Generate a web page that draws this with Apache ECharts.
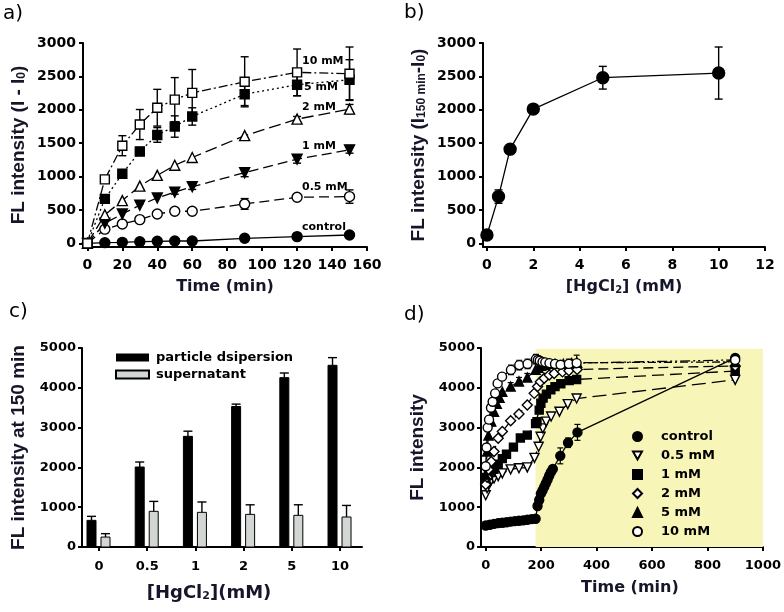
<!DOCTYPE html>
<html><head><meta charset="utf-8">
<script src="https://cdn.jsdelivr.net/npm/echarts@6/dist/echarts.min.js"></script>
<style>html,body{margin:0;padding:0;background:#fff}#c{width:784px;height:612px}</style>
</head><body><div id="c"></div>
<script>
// ---------- Panel a ----------
const aTime = [0,10,20,30,40,50,60,90,120,150];
const aControl = [0,10,15,25,30,35,35,75,100,125];
const aControlErr = [0,0,0,0,0,0,0,0,0,0];
const a05 = [0,212,290,355,440,480,480,590,690,700];
const a05Err = [0,0,0,0,0,0,0,80,40,100];
const a1 = [0,300,440,570,680,766,847,1058,1260,1400];
const a1Err = [0,0,0,0,0,30,40,60,60,50];
const a2 = [0,428,640,857,1018,1169,1285,1613,1860,2010];
const a2Err = [0,0,0,0,0,0,0,0,40,70];
const a5 = [0,665,1043,1376,1623,1749,1900,2233,2375,2450];
const a5Err = [0,0,40,60,110,160,130,170,165,300];
const a10 = [0,958,1462,1779,2031,2152,2253,2419,2560,2540];
const a10Err = [0,0,150,225,275,330,350,375,350,400];
const aXTicks = [0,20,40,60,80,100,120,140,160];
const aYTicks = [0,500,1000,1500,2000,2500,3000];
const aSeriesLabels = ['10 mM','5 mM','2 mM','1 mM','0.5 mM','control'];

// ---------- Panel b ----------
const bConc = [0,0.5,1,2,5,10];
const bValue = [125,700,1410,2010,2480,2550];
const bErr = [40,100,40,40,170,390];
const bXTicks = [0,2,4,6,8,10,12];
const bYTicks = [0,500,1000,1500,2000,2500,3000];

// ---------- Panel c ----------
const cCategories = ['0','0.5','1','2','5','10'];
const cDispersion = [670,2010,2780,3530,4255,4565];
const cDispersionErr = [100,125,130,60,117,193];
const cSupernatant = [250,896,871,820,796,754];
const cSupernatantErr = [85,250,260,240,265,290];
const cYTicks = [0,1000,2000,3000,4000,5000];

// ---------- Panel d ----------
const dControlTime = [0,15,30,45,60,75,90,105,120,135,150,165,180,187,193,199,205,211,217,223,229,235,242,269,297,331,900];
const dControl =     [540,560,580,600,610,620,637,650,660,670,685,700,710,1030,1180,1340,1420,1510,1600,1690,1790,1880,1960,2290,2620,2880,4750];
const dControlErr =  [0,0,0,0,0,0,0,0,0,0,0,0,0,0,0,0,0,0,0,0,0,0,0,200,120,200,80];
const d05Time = [0,5,10,20,30,45,60,90,120,150,176,191,198,206,218,236,266,296,328,900];
const d05 =     [1300,1480,1580,1680,1720,1780,1850,1950,1980,2000,2240,2520,2770,2980,3150,3280,3400,3590,3730,4200];
const d1Time = [0,10,20,30,45,60,75,100,125,150,180,185,193,199,207,219,235,250,271,301,328,900];
const d1 =     [1750,1800,1870,1950,2080,2220,2330,2510,2740,2810,3100,3150,3440,3610,3740,3840,3950,4030,4100,4180,4210,4420];
const d2Time = [0,5,10,20,30,45,60,90,120,150,175,187,197,211,229,247,277,300,330,900];
const d2 =     [1570,1750,1950,2150,2400,2730,2900,3170,3340,3570,3860,4030,4150,4240,4320,4360,4400,4430,4460,4550];
const d5Time = [0,5,10,20,30,40,50,60,90,120,150,180,190,200,215,230,250,280,310,330,900];
const d5 =     [1800,2400,2800,3150,3400,3600,3750,3900,4030,4160,4260,4450,4500,4550,4580,4600,4600,4600,4620,4630,4650];
const d5Err =  [0,0,0,0,0,0,0,0,100,100,100,0,0,0,0,0,0,0,0,0,0];
const d10Time = [0,3,7,12,19,25,34,43,59,91,121,151,181,188,195,205,215,230,250,270,300,328,900];
const d10 =     [2030,2500,3000,3200,3500,3650,3860,4110,4280,4450,4570,4600,4720,4700,4680,4650,4640,4620,4600,4580,4600,4620,4700];
const d10Err =  [0,0,0,0,0,0,0,0,0,120,120,120,120,100,0,0,0,0,0,0,120,200,100];
const dShadeTime = [180,1000];
const dShadeValue = [0,4980];
const dXTicks = [0,200,400,600,800,1000];
const dYTicks = [0,1000,2000,3000,4000,5000];

// ---------- helpers ----------
const TITLE_COLOR = '#16162a';
const zip = (xs, ys) => xs.map((x, i) => [x, ys[i]]);
const zip3 = (xs, ys, es) => xs.map((x, i) => [x, ys[i], es[i]]);
const invTri = 'path://M0,0 L10,0 L5,9 Z';

function axis(gridIndex, min, max, ticks, fontSize, margin, extra) {
  return Object.assign({
    type: 'value', gridIndex, min, max,
    axisLine: {show: true, onZero: false, lineStyle: {color: '#000', width: 2}},
    axisTick: {show: true, length: 4, lineStyle: {color: '#000', width: 2}, customValues: ticks},
    axisLabel: {color: '#000', fontFamily: 'DejaVu Sans', fontWeight: 'bold', fontSize, margin,
      customValues: ticks, formatter: v => String(v)},
    splitLine: {show: false}
  }, extra || {});
}
function nameStyle(size, family, extra) {
  const sub = {fontSize: Math.round(size * 0.62), fontWeight: 'bold', fontFamily: family, color: TITLE_COLOR, verticalAlign: 'bottom'};
  return Object.assign({fontSize: size, fontWeight: 'bold', fontFamily: family, color: TITLE_COLOR,
    rich: {s: sub}}, extra || {});
}
function errRender(capHalf, lw) {
  return function (params, api) {
    const x = api.value(0), y = api.value(1), e = api.value(2);
    if (!e) return null;
    const hi = api.coord([x, y + e]);
    const lo = api.coord([x, y - e]);
    const st = {stroke: '#000', lineWidth: lw};
    return {type: 'group', children: [
      {type: 'line', shape: {x1: hi[0], y1: hi[1], x2: lo[0], y2: lo[1]}, style: st},
      {type: 'line', shape: {x1: hi[0] - capHalf, y1: hi[1], x2: hi[0] + capHalf, y2: hi[1]}, style: st},
      {type: 'line', shape: {x1: lo[0] - capHalf, y1: lo[1], x2: lo[0] + capHalf, y2: lo[1]}, style: st}
    ]};
  };
}
function errSeries(name, gi, data, capHalf, lw) {
  return {type: 'custom', name, xAxisIndex: gi, yAxisIndex: gi, data, z: 1,
    renderItem: errRender(capHalf, lw), encode: {x: 0, y: 1}, silent: true};
}
function barRender(offset, width, fill) {
  return function (params, api) {
    const i = api.value(0), v = api.value(1), e = api.value(2);
    const base = api.coord([i, 0]);
    const top = api.coord([i, v]);
    const err = api.coord([i, v + e]);
    const cx = base[0] + offset;
    const st = {stroke: '#000', lineWidth: 1.4};
    return {type: 'group', children: [
      {type: 'line', shape: {x1: cx, y1: top[1], x2: cx, y2: err[1]}, style: st},
      {type: 'line', shape: {x1: cx - width / 2, y1: err[1], x2: cx + width / 2, y2: err[1]}, style: st},
      {type: 'rect', shape: {x: cx - width / 2, y: top[1], width, height: base[1] - top[1]},
       style: {fill, stroke: '#000', lineWidth: 1}}
    ]};
  };
}
function lineSeries(name, gi, data, symbol, size, filled, dash, extra) {
  return Object.assign({
    type: 'line', name, xAxisIndex: gi, yAxisIndex: gi, data, z: 3,
    symbol, symbolSize: size, showAllSymbol: true, animation: false,
    itemStyle: {color: filled ? '#000' : '#fff', borderColor: '#000', borderWidth: 1.4, opacity: 1},
    lineStyle: {color: '#000', width: 1.3, type: dash || 'solid'}
  }, extra || {});
}

const cIdx = cCategories.map((c, i) => i);

const option = {
  animation: false,
  backgroundColor: '#fff',
  grid: [
    {left: 83, top: 43, width: 284, height: 204},
    {left: 483, top: 43, width: 282, height: 204},
    {left: 82, top: 348, width: 280, height: 199},
    {left: 481, top: 348, width: 283, height: 199}
  ],
  xAxis: [
    axis(0, -2.5, 160, aXTicks, 14, 11, {name: 'Time (min)', nameLocation: 'middle', nameGap: 32,
      nameTextStyle: nameStyle(16, 'DejaVu Sans')}),
    axis(1, -0.17, 12, bXTicks, 14, 11, {name: '[HgCl{s|2}] (mM)', nameLocation: 'middle', nameGap: 32,
      nameTextStyle: nameStyle(16, 'DejaVu Sans')}),
    axis(2, -0.353, 5.456, cIdx, 13, 13, {name: '[HgCl{s|2}](mM)', nameLocation: 'middle', nameGap: 37,
      nameTextStyle: nameStyle(18, 'DejaVu Sans', {padding: [0, 26, 0, 0]}),
      axisLabel: {color: '#000', fontFamily: 'DejaVu Sans', fontWeight: 'bold', fontSize: 13, margin: 13,
        customValues: cIdx, formatter: v => cCategories[Math.round(v)]}}),
    axis(3, -17, 1000, dXTicks, 13, 12, {name: 'Time (min)', nameLocation: 'middle', nameGap: 33,
      nameTextStyle: nameStyle(16, 'DejaVu Sans', {padding: [0, 0, 0, 16]})})
  ],
  yAxis: [
    axis(0, -55, 3000, aYTicks, 14, 7, {name: 'FL intensity (I - I{s|0})', nameLocation: 'middle', nameGap: 55,
      nameTextStyle: nameStyle(19, 'Liberation Sans')}),
    axis(1, -55, 3000, bYTicks, 14, 7, {name: 'FL intensity (I{s|150 min}-I{s|0})', nameLocation: 'middle', nameGap: 55,
      nameTextStyle: nameStyle(19, 'Liberation Sans')}),
    axis(2, 0, 5000, cYTicks, 13, 6, {name: 'FL intensity at 150 min', nameLocation: 'middle', nameGap: 54,
      nameTextStyle: nameStyle(19, 'Liberation Sans')}),
    axis(3, 0, 5000, dYTicks, 13, 6, {name: 'FL intensity', nameLocation: 'middle', nameGap: 54,
      nameTextStyle: nameStyle(19, 'Liberation Sans')})
  ],
  legend: [
    {left: 110, top: 346, orient: 'vertical', itemWidth: 33, itemHeight: 8, itemGap: 4,
      selectedMode: false, icon: 'rect',
      textStyle: {fontFamily: 'DejaVu Sans', fontWeight: 'bold', fontSize: 13, color: '#000', padding: [0, 0, 0, 2]},
      data: ['particle dsipersion', 'supernatant']},
    {left: 627, top: 425, orient: 'vertical', itemWidth: 9, itemHeight: 9, itemGap: 6,
      selectedMode: false,
      textStyle: {fontFamily: 'DejaVu Sans', fontWeight: 'bold', fontSize: 13, color: '#000', padding: [0, 0, 0, 14]},
      data: [
        {name: 'control', icon: 'circle'},
        {name: '0.5 mM', icon: invTri},
        {name: '1 mM', icon: 'rect'},
        {name: '2 mM', icon: 'diamond'},
        {name: '5 mM', icon: 'triangle'},
        {name: '10 mM', icon: 'circle'}
      ]}
  ],
  graphic: [
    {type: 'text', left: 3, top: 4, style: {text: 'a)', font: '20px "DejaVu Sans"', fill: '#000'}},
    {type: 'text', left: 404, top: 3, style: {text: 'b)', font: '20px "DejaVu Sans"', fill: '#000'}},
    {type: 'text', left: 9, top: 302, style: {text: 'c)', font: '20px "DejaVu Sans"', fill: '#000'}},
    {type: 'text', left: 404, top: 305, style: {text: 'd)', font: '20px "DejaVu Sans"', fill: '#000'}},
    {type: 'text', left: 302, top: 56, z: 10, style: {text: aSeriesLabels[0], font: 'bold 11px "DejaVu Sans"', fill: '#000'}},
    {type: 'text', left: 304, top: 82, z: 10, style: {text: aSeriesLabels[1], font: 'bold 11px "DejaVu Sans"', fill: '#000'}},
    {type: 'text', left: 302, top: 102, z: 10, style: {text: aSeriesLabels[2], font: 'bold 11px "DejaVu Sans"', fill: '#000'}},
    {type: 'text', left: 302, top: 141, z: 10, style: {text: aSeriesLabels[3], font: 'bold 11px "DejaVu Sans"', fill: '#000'}},
    {type: 'text', left: 302, top: 182, z: 10, style: {text: aSeriesLabels[4], font: 'bold 11px "DejaVu Sans"', fill: '#000'}},
    {type: 'text', left: 302, top: 222, z: 10, style: {text: aSeriesLabels[5], font: 'bold 11px "DejaVu Sans"', fill: '#000'}}
  ],
  series: [
    // panel a
    errSeries('aE10', 0, zip3(aTime, a10, a10Err), 4, 1.4),
    errSeries('aE5', 0, zip3(aTime, a5, a5Err), 4, 1.4),
    errSeries('aE2', 0, zip3(aTime, a2, a2Err), 4, 1.4),
    errSeries('aE1', 0, zip3(aTime, a1, a1Err), 4, 1.4),
    errSeries('aE05', 0, zip3(aTime, a05, a05Err), 4, 1.4),
    errSeries('aEc', 0, zip3(aTime, aControl, aControlErr), 4, 1.4),
    lineSeries('a control', 0, zip(aTime, aControl), 'circle', 10, true, 'solid'),
    lineSeries('a 0.5', 0, zip(aTime, a05), 'circle', 10, false, [10, 5]),
    lineSeries('a 1', 0, zip(aTime, a1), invTri, 10, true, [10, 5]),
    lineSeries('a 2', 0, zip(aTime, a2), 'triangle', 10, false, [12, 5]),
    lineSeries('a 5', 0, zip(aTime, a5), 'rect', 9, true, [2, 3]),
    lineSeries('a 10', 0, zip(aTime, a10), 'rect', 9, false, [9, 3, 2, 3]),
    // panel b
    errSeries('bE', 1, zip3(bConc, bValue, bErr), 4, 1.4),
    lineSeries('b', 1, zip(bConc, bValue), 'circle', 12, true, 'solid'),
    // panel c
    {type: 'custom', name: 'particle dsipersion', xAxisIndex: 2, yAxisIndex: 2, z: 2,
      itemStyle: {color: '#000'}, encode: {x: 0, y: 1},
      data: zip3(cIdx, cDispersion, cDispersionErr), renderItem: barRender(-7.5, 9, '#000')},
    {type: 'custom', name: 'supernatant', xAxisIndex: 2, yAxisIndex: 2, z: 2,
      itemStyle: {color: '#d3d7d3', borderColor: '#000', borderWidth: 1}, encode: {x: 0, y: 1},
      data: zip3(cIdx, cSupernatant, cSupernatantErr), renderItem: barRender(6.5, 9, '#d3d7d3')},
    // panel d
    {type: 'line', name: 'shade', xAxisIndex: 3, yAxisIndex: 3, data: [], z: 0, silent: true,
      markArea: {silent: true, itemStyle: {color: '#f8f5b9', opacity: 1}, label: {show: false},
        data: [[{coord: [dShadeTime[0], dShadeValue[0]]}, {coord: [dShadeTime[1], dShadeValue[1]]}]]}},
    errSeries('dEc', 3, zip3(dControlTime, dControl, dControlErr), 3, 1.2),
    errSeries('dE5', 3, zip3(d5Time, d5, d5Err), 3, 1.2),
    errSeries('dE10', 3, zip3(d10Time, d10, d10Err), 3, 1.2),
    lineSeries('control', 3, zip(dControlTime, dControl), 'circle', 9, true, 'solid'),
    lineSeries('0.5 mM', 3, zip(d05Time, d05), invTri, 9, false, [14, 6]),
    lineSeries('1 mM', 3, zip(d1Time, d1), 'rect', 8, true, [12, 6]),
    lineSeries('2 mM', 3, zip(d2Time, d2), 'diamond', 10, false, [10, 5]),
    lineSeries('5 mM', 3, zip(d5Time, d5), 'triangle', 9, true, [8, 3, 2, 3]),
    lineSeries('10 mM', 3, zip(d10Time, d10), 'circle', 9, false, [10, 3, 2, 3, 2, 3])
  ]
};
const chart = echarts.init(document.getElementById('c'), null, {renderer: 'canvas'});
chart.setOption(option);
</script></body></html>
